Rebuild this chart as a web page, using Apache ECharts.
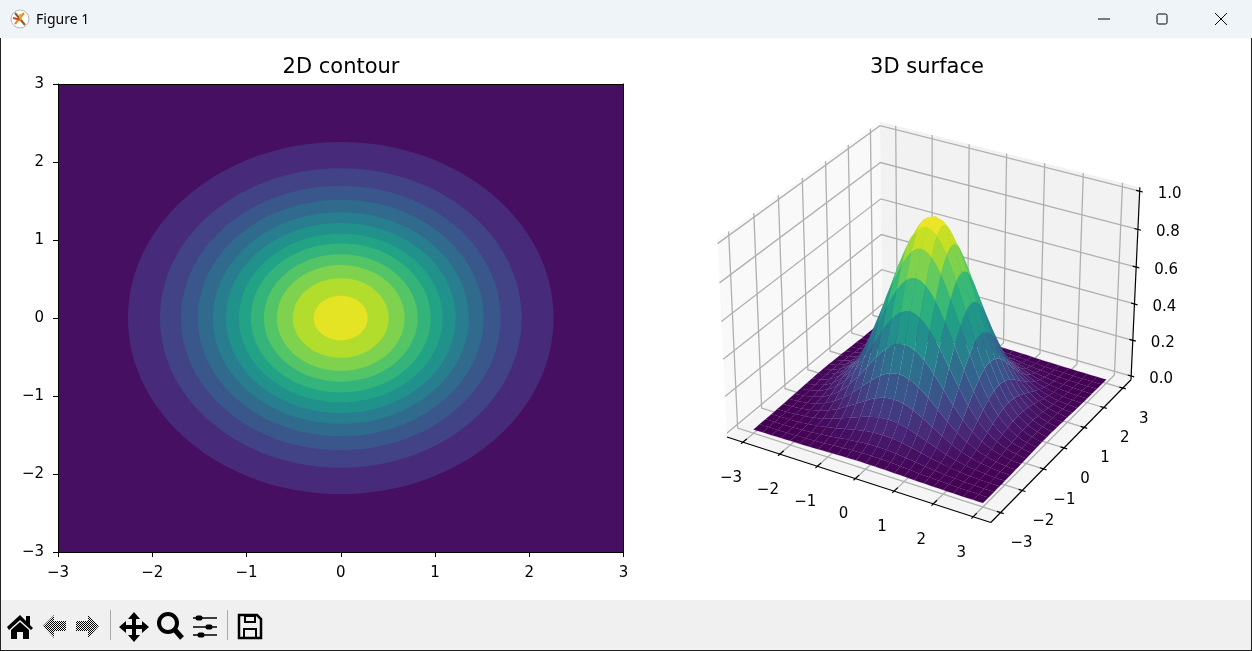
<!DOCTYPE html>
<html>
<head>
<meta charset="utf-8">
<style>html,body{margin:0;padding:0;background:#fff}#app{width:1252px;height:651px}</style>
<script src="https://cdn.jsdelivr.net/npm/echarts@6/dist/echarts.min.js"></script>
</head>
<body>
<div id="app"></div>
<script>
// tick values and labels
const planeTicks = [-3, -2, -1, 0, 1, 2, 3];
const planeTickLabels = ["\u22123", "\u22122", "\u22121", "0", "1", "2", "3"];
const heightTicks = [0, 0.2, 0.4, 0.6, 0.8, 1];
const heightTickLabels = ["0.0", "0.2", "0.4", "0.6", "0.8", "1.0"];

// contour bands: radius of each band's outer edge (first band fills the panel)
const contourRadii = [null, 2.258, 1.919, 1.696, 1.516, 1.357, 1.219, 1.081, 0.954, 0.816, 0.678, 0.509, 0.286];
const contourBandCount = 13;

// surface heights for one octant of the grid, step 0.125 from the peak: surfaceRows[i][j], j <= i
const surfaceStep = 0.125;
const surfaceRows = [
  [1.000],
  [.992, .984],
  [.969, .962, .939],
  [.932, .925, .903, .869],
  [.883, .876, .855, .823, .779],
  [.823, .816, .797, .767, .726, .677],
  [.755, .749, .732, .704, .666, .621, .570],
  [.682, .677, .661, .636, .602, .561, .515, .465],
  [.607, .602, .588, .565, .535, .499, .458, .414, .368],
  [.531, .527, .515, .495, .469, .437, .401, .362, .322, .282],
  [.458, .454, .444, .427, .404, .377, .346, .312, .278, .243, .210],
  [.389, .386, .377, .362, .343, .320, .293, .265, .236, .206, .178, .151],
  [.325, .322, .315, .303, .287, .267, .245, .221, .197, .172, .149, .126, .105],
  [.267, .265, .259, .249, .236, .220, .202, .182, .162, .142, .122, .104, .087, .071],
  [.216, .215, .210, .202, .191, .178, .163, .147, .131, .115, .099, .084, .070, .058, .047],
  [.172, .171, .167, .161, .152, .142, .130, .118, .105, .092, .079, .067, .056, .046, .037, .030],
  [.135, .134, .131, .126, .119, .111, .102, .092, .082, .072, .062, .053, .044, .036, .029, .023, .018],
  [.105, .104, .101, .097, .092, .086, .079, .071, .063, .056, .048, .041, .034, .028, .023, .018, .014, .011],
  [.080, .079, .077, .074, .070, .065, .060, .054, .048, .042, .036, .031, .026, .021, .017, .014, .011, .008, .006],
  [.060, .059, .058, .056, .053, .049, .045, .041, .036, .032, .027, .023, .019, .016, .013, .010, .008, .006, .005, .004],
  [.044, .044, .043, .041, .039, .036, .033, .030, .027, .023, .020, .017, .014, .012, .009, .008, .006, .005, .003, .003, .002],
  [.032, .032, .031, .030, .028, .026, .024, .022, .019, .017, .015, .012, .010, .009, .007, .005, .004, .003, .003, .002, .001, .001],
  [.023, .023, .022, .021, .020, .019, .017, .016, .014, .012, .010, .009, .007, .006, .005, .004, .003, .002, .002, .001, .001, .001, .001],
  [.016, .016, .016, .015, .014, .013, .012, .011, .010, .008, .007, .006, .005, .004, .003, .003, .002, .002, .001, .001, .001, .001, 0, 0],
  [.011, .011, .011, .010, .010, .009, .008, .008, .007, .006, .005, .004, .004, .003, .002, .002, .002, .001, .001, .001, 0, 0, 0, 0, 0]
];

const viridisStops = ["#440154", "#482576", "#414487", "#355f8d", "#2a788e", "#21918c", "#22a884", "#43bf71", "#7ad151", "#bddf26", "#fde725"];

function viridis(t) {
  const pos = Math.min(Math.max(t, 0), 1) * (viridisStops.length - 1);
  const k = Math.min(Math.floor(pos), viridisStops.length - 2);
  const a = echarts.color.parse(viridisStops[k]);
  const b = echarts.color.parse(viridisStops[k + 1]);
  const f = pos - k;
  return "rgb(" + [0, 1, 2].map(c => Math.round(a[c] + (b[c] - a[c]) * f)).join(",") + ")";
}

// mplot3d style camera, elev 30 azim -60
const limXY = 3.4375;
const limZ = [-0.0208, 1.0208];
const box = [1.1905, 1.1905, 0.8929];
const cam = { u: [0.866, 0.5, 0], v: [-0.25, 0.433, 0.866], w: [0.433, -0.75, 0.5], dist: 10 };

function project(x, y, z) {
  const d = [
    (x / limXY) * box[0] / 2,
    (y / limXY) * box[1] / 2,
    ((z - limZ[0]) / (limZ[1] - limZ[0]) - 0.5) * box[2]
  ];
  const dot = a => a[0] * d[0] + a[1] * d[1] + a[2] * d[2];
  const depth = cam.dist - dot(cam.w);
  return { p: [dot(cam.u) / depth, dot(cam.v) / depth], depth };
}
const proj2 = (x, y, z) => project(x, y, z).p;

function heightAt(i, j) {
  const a = Math.abs(i), b = Math.abs(j);
  return surfaceRows[Math.max(a, b)][Math.min(a, b)];
}

// coarse facets, two grid steps wide, outlined through the intermediate grid points
const facets = [];
for (let i0 = -24; i0 < 24; i0 += 2) {
  for (let j0 = -24; j0 < 24; j0 += 2) {
    const ring = [[0, 0], [1, 0], [2, 0], [2, 1], [2, 2], [1, 2], [0, 2], [0, 1]];
    let zSum = 0, depthSum = 0;
    const pts = ring.map(r => {
      const i = i0 + r[0], j = j0 + r[1];
      const z = heightAt(i, j);
      const q = project(i * surfaceStep, j * surfaceStep, z);
      zSum += z;
      depthSum += q.depth;
      return q.p;
    });
    facets.push({ pts, color: viridis(zSum / ring.length), depth: depthSum / ring.length });
  }
}
facets.sort((a, b) => b.depth - a.depth);

// frame of the 3D box
const L = limXY, Z0 = limZ[0], Z1 = limZ[1];
const panes = [
  { pts: [[-L, -L, Z0], [-L, L, Z0], [-L, L, Z1], [-L, -L, Z1]], color: "#f9f9f9" },
  { pts: [[-L, L, Z0], [L, L, Z0], [L, L, Z1], [-L, L, Z1]], color: "#f2f2f2" },
  { pts: [[-L, -L, Z0], [L, -L, Z0], [L, L, Z0], [-L, L, Z0]], color: "#f5f5f5" }
];
const gridLines = [];
planeTicks.forEach(t => {
  gridLines.push([[t, -L, Z0], [t, L, Z0], [t, L, Z1]]);
  gridLines.push([[L, t, Z0], [-L, t, Z0], [-L, t, Z1]]);
});
heightTicks.forEach(t => gridLines.push([[-L, -L, t], [-L, L, t], [L, L, t]]));

const tickOut = 0.08, tickIn = 0.16, tickSide = 0.09;
const axisLines = [
  [[-L, -L, Z0], [L, -L, Z0]],
  [[L, -L, Z0], [L, L, Z0]],
  [[L, L, Z0], [L, L, Z1]]
];
planeTicks.forEach(t => {
  axisLines.push([[t, -L - tickOut, Z0], [t, -L + tickIn, Z0]]);
  axisLines.push([[L + tickOut, t, Z0], [L - tickSide, t, Z0]]);
});
heightTicks.forEach(t => axisLines.push([[L + tickOut, L, t], [L - tickSide, L, t]]));

const tickTexts = [];
planeTicks.forEach((t, k) => {
  tickTexts.push({ at: [t, -L, Z0], dx: -12, dy: 36, text: planeTickLabels[k] });
  tickTexts.push({ at: [L, t, Z0], dx: 21, dy: 31, text: planeTickLabels[k] });
});
heightTicks.forEach((t, k) => tickTexts.push({ at: [L, L, t], dx: 30, dy: 3, text: heightTickLabels[k] }));

const FONT = "DejaVu Sans";
const TICK_SIZE = 15;

function view3d(name, rows, renderItem) {
  return {
    name, type: "custom", coordinateSystem: "cartesian2d", xAxisIndex: 2, yAxisIndex: 2,
    data: rows.map((r, k) => [k]), renderItem, silent: true, animation: false, clip: false, progressive: 0
  };
}

function lineRender(lines, color, width) {
  return (params, api) => ({
    type: "polyline",
    shape: { points: lines[params.dataIndex].map(q => api.coord(proj2(q[0], q[1], q[2]))) },
    style: { stroke: color, lineWidth: width, fill: null }
  });
}

function renderContour(params, api) {
  const k = params.dataIndex;
  const fill = viridis((k + 0.5) / contourBandCount);
  if (contourRadii[k] === null) {
    const a = api.coord([-3, 3]), b = api.coord([3, -3]);
    return { type: "rect", shape: { x: a[0], y: a[1], width: b[0] - a[0], height: b[1] - a[1] }, style: { fill } };
  }
  const c = api.coord([0, 0]);
  const s = api.size([contourRadii[k], contourRadii[k]]);
  return { type: "ellipse", shape: { cx: c[0], cy: c[1], rx: s[0], ry: s[1] }, style: { fill } };
}

// window chrome
function checker() {
  const c = document.createElement("canvas");
  c.width = c.height = 2;
  const g = c.getContext("2d");
  g.fillStyle = "#000";
  g.fillRect(0, 0, 1, 1);
  g.fillRect(1, 1, 1, 1);
  return { image: c, repeat: "repeat" };
}
const poly = (points, style) => ({ type: "polygon", shape: { points }, style: Object.assign({ fill: "#000" }, style) });
const seg = (x1, y1, x2, y2, color, w) => ({ type: "line", shape: { x1, y1, x2, y2 }, style: { stroke: color, lineWidth: w } });
const box2 = (x, y, width, height, fill) => ({ type: "rect", shape: { x, y, width, height }, style: { fill } });
const knob = (cx, cy) => ({ type: "rect", shape: { x: cx - 3.5, y: cy - 2.5, width: 7, height: 5, r: 2 }, style: { fill: "#000" } });
const dither = checker();

const chrome = [
  box2(0, 0, 1252, 38, "#eff4f9"),
  box2(0, 600, 1252, 50, "#f0f0f0"),
  box2(0, 38, 1, 613, "#222"),
  box2(1251, 38, 1, 613, "#222"),
  box2(0, 650, 1252, 1, "#222"),
  { type: "circle", shape: { cx: 20, cy: 19, r: 9 }, style: { fill: "#fff", stroke: "#b5b5b5", lineWidth: 1 } },
  seg(15, 13, 25, 25, "#8a5a2b", 2), seg(24, 13, 15, 24, "#e08a1e", 2), seg(13, 18, 22, 20, "#d8402a", 2), seg(20, 14, 21, 20, "#e0b020", 2),
  { type: "text", style: { text: "Figure 1", x: 36, y: 20, font: '14px "Noto Sans"', fill: "#000", verticalAlign: "middle" } },
  seg(1098, 19, 1110, 19, "#000", 1),
  { type: "rect", shape: { x: 1157, y: 14, width: 10, height: 10, r: 1.5 }, style: { fill: null, stroke: "#000", lineWidth: 1 } },
  seg(1215, 13, 1227, 25, "#000", 1), seg(1227, 13, 1215, 25, "#000", 1),
  // home
  poly([[7, 627], [20, 615], [26, 621], [26, 616], [30, 616], [30, 625], [33, 628], [31, 630], [20, 620], [9, 630]]),
  poly([[11, 630], [20, 622], [29, 630], [29, 639], [23, 639], [23, 632], [17, 632], [17, 639], [11, 639]]),
  // back, forward
  poly([[43, 626], [54, 615], [54, 621], [66, 621], [66, 631], [54, 631], [54, 638]], { fill: dither }),
  poly([[99, 626], [88, 615], [88, 621], [76, 621], [76, 631], [88, 631], [88, 638]], { fill: dither }),
  seg(110.5, 610, 110.5, 640, "#aaa", 1),
  // pan
  poly([[134, 612], [140, 619], [136, 619], [136, 625], [142, 625], [142, 621], [149, 627], [142, 633], [142, 629], [136, 629], [136, 635], [140, 635], [134, 642], [128, 635], [132, 635], [132, 629], [126, 629], [126, 633], [119, 627], [126, 621], [126, 625], [132, 625], [132, 619], [128, 619]]),
  // zoom
  { type: "circle", shape: { cx: 168, cy: 623, r: 9 }, style: { fill: null, stroke: "#000", lineWidth: 4 } },
  seg(175, 630, 182, 638, "#000", 5),
  // configure
  seg(193, 618, 217, 618, "#000", 1.5), seg(193, 627, 217, 627, "#000", 1.5), seg(193, 635, 217, 635, "#000", 1.5),
  knob(199, 618), knob(209, 627), knob(201, 635),
  seg(227.5, 610, 227.5, 640, "#aaa", 1),
  // save
  poly([[239, 615], [257, 615], [261, 619], [261, 638], [239, 638]], { fill: null, stroke: "#000", lineWidth: 2.5 }),
  { type: "rect", shape: { x: 245, y: 616, width: 10, height: 6 }, style: { fill: null, stroke: "#000", lineWidth: 2 } },
  { type: "rect", shape: { x: 244, y: 629, width: 12, height: 9 }, style: { fill: null, stroke: "#000", lineWidth: 2 } }
].map(e => Object.assign(e, { silent: true }));

const titleStyle = { fontFamily: FONT, fontSize: 21, fontWeight: "normal", color: "#000" };
const labelOf = v => planeTickLabels[planeTicks.indexOf(v)];
const tickAxis = {
  type: "value", min: -3, max: 3, interval: 1, z: 5, gridIndex: 0,
  splitLine: { show: false },
  axisLine: { show: true, onZero: false, lineStyle: { color: "#000", width: 1 } },
  axisTick: { show: true, length: 5, lineStyle: { color: "#000", width: 1 } },
  axisLabel: { show: true, formatter: labelOf, color: "#000", fontFamily: FONT, fontSize: TICK_SIZE, margin: 14 }
};
const spineAxis = {
  type: "value", min: -3, max: 3, interval: 1, z: 5, gridIndex: 0,
  splitLine: { show: false },
  axisLine: { show: true, onZero: false, lineStyle: { color: "#000", width: 1 } },
  axisTick: { show: false }, axisLabel: { show: false }
};
const hiddenAxis = { type: "value", min: -0.1, max: 0.1, show: false, gridIndex: 1 };

const option = {
  backgroundColor: "#fff",
  animation: false,
  title: [
    { text: "2D contour", left: 341, top: 57, padding: 0, textAlign: "center", textStyle: titleStyle },
    { text: "3D surface", left: 927, top: 57, padding: 0, textAlign: "center", textStyle: titleStyle }
  ],
  grid: [
    { left: 58, top: 84, width: 565.5, height: 468 },
    { left: 678.8, top: 60.5, width: 507.8, height: 504 }
  ],
  xAxis: [
    Object.assign({}, tickAxis, { position: "bottom" }),
    Object.assign({}, spineAxis, { position: "top" }),
    hiddenAxis
  ],
  yAxis: [
    Object.assign({}, tickAxis, { position: "left", axisLabel: Object.assign({}, tickAxis.axisLabel, { padding: [2, 0, 0, 0] }) }),
    Object.assign({}, spineAxis, { position: "right" }),
    hiddenAxis
  ],
  graphic: { elements: chrome },
  series: [
    {
      name: "contour", type: "custom", coordinateSystem: "cartesian2d", xAxisIndex: 0, yAxisIndex: 0,
      data: contourRadii.map((r, k) => [k]), renderItem: renderContour, silent: true, animation: false
    },
    view3d("panes", panes, (params, api) => ({
      type: "polygon",
      shape: { points: panes[params.dataIndex].pts.map(q => api.coord(proj2(q[0], q[1], q[2]))) },
      style: { fill: panes[params.dataIndex].color }
    })),
    view3d("grid", gridLines, lineRender(gridLines, "#b0b0b0", 1.3)),
    view3d("axes", axisLines, lineRender(axisLines, "#000", 1.2)),
    view3d("surface", facets, (params, api) => ({
      type: "polygon",
      shape: { points: facets[params.dataIndex].pts.map(p => api.coord(p)) },
      style: { fill: facets[params.dataIndex].color, stroke: facets[params.dataIndex].color, lineWidth: 0.12 }
    })),
    view3d("labels", tickTexts, (params, api) => {
      const t = tickTexts[params.dataIndex];
      const c = api.coord(proj2(t.at[0], t.at[1], t.at[2]));
      return {
        type: "text",
        style: { text: t.text, x: c[0] + t.dx, y: c[1] + t.dy, fontFamily: FONT, fontSize: TICK_SIZE, fill: "#000", align: "center", verticalAlign: "middle" }
      };
    })
  ]
};

const chart = echarts.init(document.getElementById("app"), null, { renderer: "canvas" });
chart.setOption(option);
</script>
</body>
</html>
